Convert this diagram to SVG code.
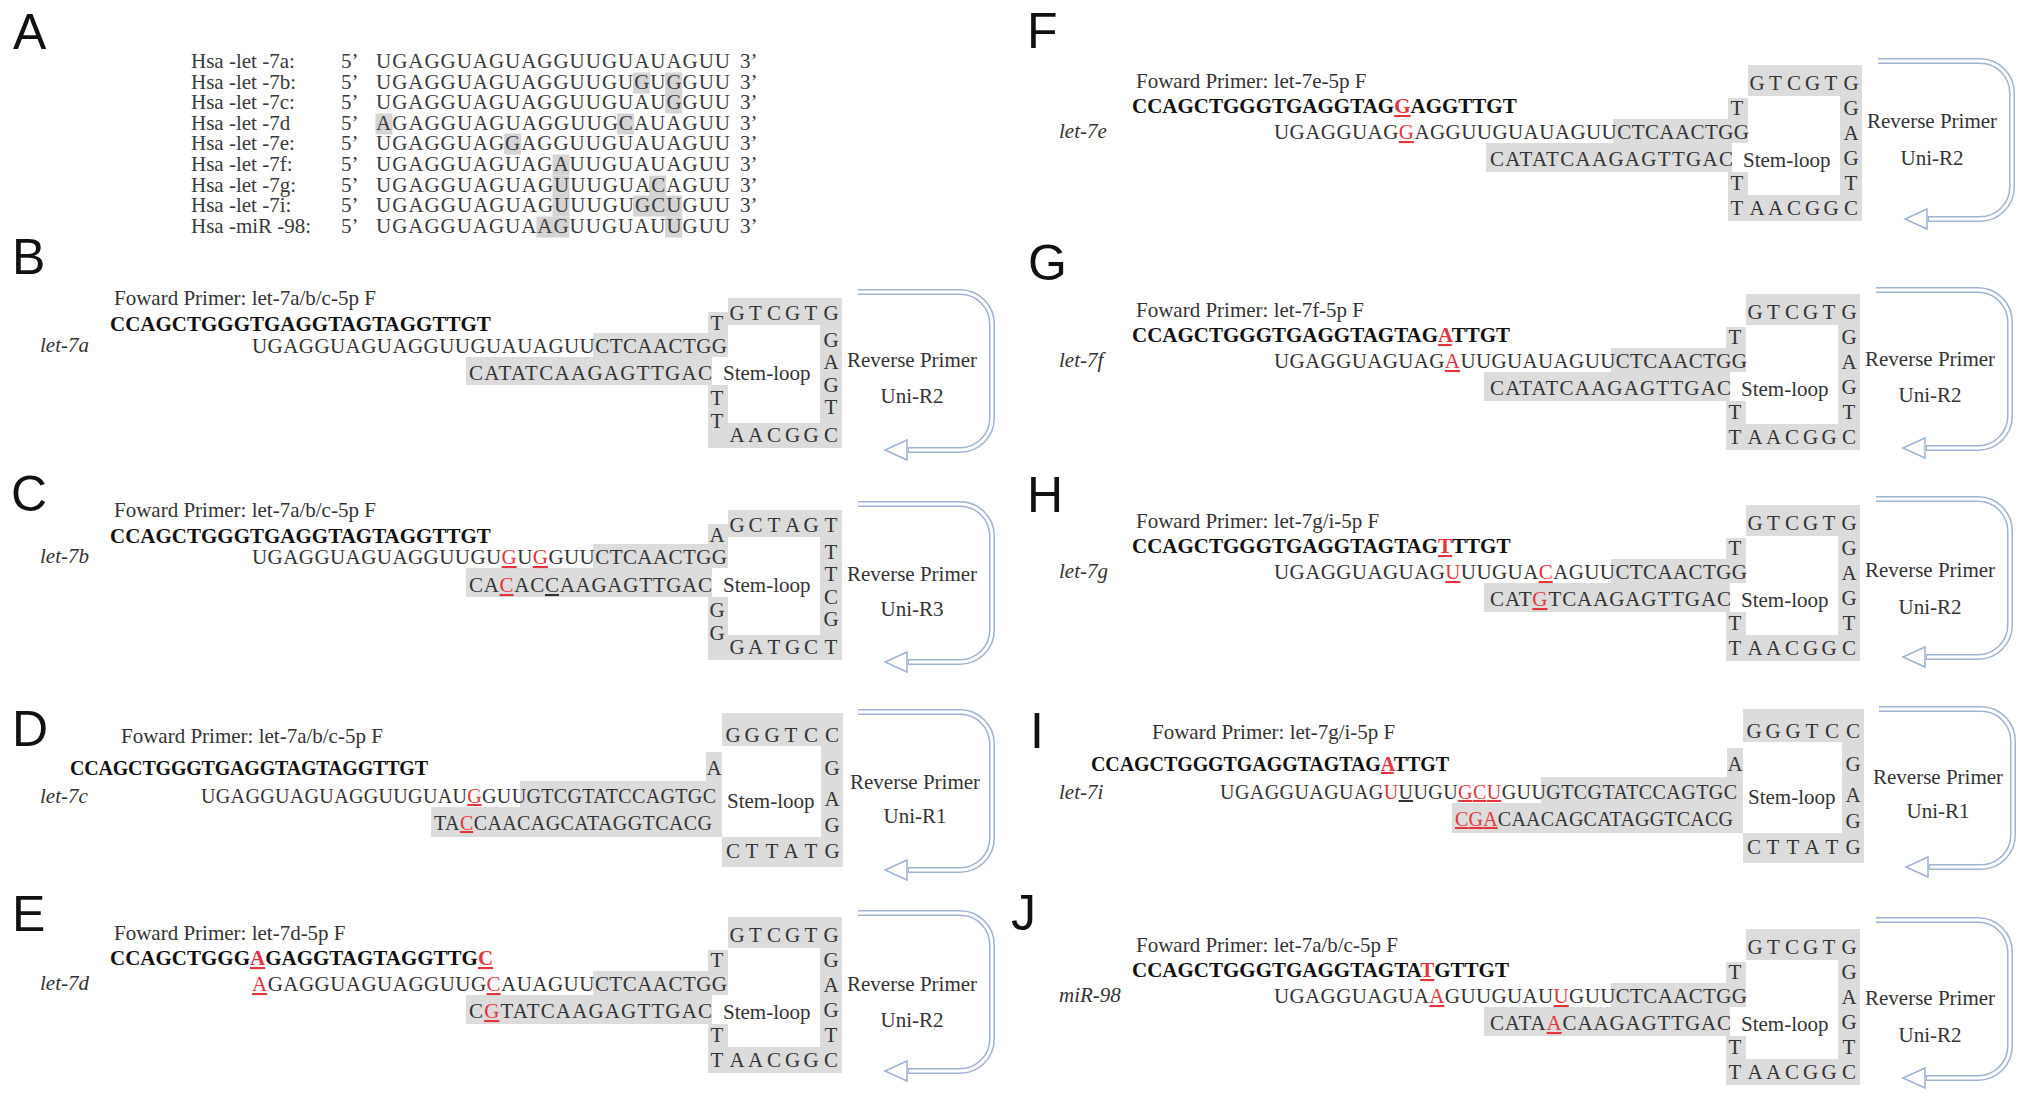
<svg xmlns="http://www.w3.org/2000/svg" width="2032" height="1101" viewBox="0 0 2032 1101">
<style>
.s{font-family:"Liberation Serif","Times New Roman",serif;font-size:21px;fill:#333}
.t{font-family:"Liberation Serif","Times New Roman",serif;font-size:21px;fill:#3a3a3a}
.sm{font-size:20px}
.b{font-weight:bold;fill:#111}
.i{font-style:italic}
.c{text-anchor:middle}
.r{fill:#e4353d;text-decoration:underline}
.rn{fill:#e4353d}
.u{text-decoration:underline}
.g{fill:#dcdcdc}
.hl{fill:#d4d4d4}
.L{font-family:"Liberation Sans",Arial,sans-serif;font-size:50px;fill:#111}
.ao{fill:none;stroke:#9fb3d0;stroke-width:6}
.ai{fill:none;stroke:#fff;stroke-width:3}
.ah{fill:#fff;stroke:#9fb3d0;stroke-width:1.5}
</style>
<defs>
<g id="arrow">
<polygon class="ah" points="49,148 27,158 49,168"/>
<path class="ao" d="M0 0H102A32 32 0 0 1 134 32V126A32 32 0 0 1 102 158H50"/>
<path class="ai" d="M0 0H102A32 32 0 0 1 134 32V126A32 32 0 0 1 102 158H51"/>
</g>
</defs>
<rect width="2032" height="1101" fill="#fff"/>

<g id="panel-A">
<text class="L" x="13" y="49">A</text>
<g class="hl">
<rect x="632.9" y="72.5" width="17" height="21"/><rect x="665.1" y="72.5" width="17" height="21"/>
<rect x="665.1" y="92.5" width="17" height="21"/>
<rect x="375.5" y="113.5" width="17" height="21"/><rect x="616.9" y="113.5" width="17" height="21"/>
<rect x="504.2" y="133.5" width="17" height="21"/>
<rect x="552.5" y="154.5" width="17" height="21"/>
<rect x="552.5" y="175.5" width="17" height="21"/><rect x="649" y="175.5" width="17" height="21"/>
<rect x="552.5" y="195.5" width="17" height="21"/><rect x="632.9" y="195.5" width="49" height="21"/>
<rect x="536.4" y="216.5" width="33" height="21"/><rect x="665.1" y="216.5" width="17" height="21"/>
</g>
<text class="t" x="191" y="68">Hsa -let -7a:</text><text class="t" x="341" y="68">5’</text><text class="t" x="376" y="68" textLength="354">UGAGGUAGUAGGUUGUAUAGUU</text><text class="t" x="740" y="68">3’</text>
<text class="t" x="191" y="89">Hsa -let -7b:</text><text class="t" x="341" y="89">5’</text><text class="t" x="376" y="89" textLength="354">UGAGGUAGUAGGUUGUGUGGUU</text><text class="t" x="740" y="89">3’</text>
<text class="t" x="191" y="109">Hsa -let -7c:</text><text class="t" x="341" y="109">5’</text><text class="t" x="376" y="109" textLength="354">UGAGGUAGUAGGUUGUAUGGUU</text><text class="t" x="740" y="109">3’</text>
<text class="t" x="191" y="130">Hsa -let -7d</text><text class="t" x="341" y="130">5’</text><text class="t" x="376" y="130" textLength="354">AGAGGUAGUAGGUUGCAUAGUU</text><text class="t" x="740" y="130">3’</text>
<text class="t" x="191" y="150">Hsa -let -7e:</text><text class="t" x="341" y="150">5’</text><text class="t" x="376" y="150" textLength="354">UGAGGUAGGAGGUUGUAUAGUU</text><text class="t" x="740" y="150">3’</text>
<text class="t" x="191" y="171">Hsa -let -7f:</text><text class="t" x="341" y="171">5’</text><text class="t" x="376" y="171" textLength="354">UGAGGUAGUAGAUUGUAUAGUU</text><text class="t" x="740" y="171">3’</text>
<text class="t" x="191" y="192">Hsa -let -7g:</text><text class="t" x="341" y="192">5’</text><text class="t" x="376" y="192" textLength="354">UGAGGUAGUAGUUUGUACAGUU</text><text class="t" x="740" y="192">3’</text>
<text class="t" x="191" y="212">Hsa -let -7i:</text><text class="t" x="341" y="212">5’</text><text class="t" x="376" y="212" textLength="354">UGAGGUAGUAGUUUGUGCUGUU</text><text class="t" x="740" y="212">3’</text>
<text class="t" x="191" y="233">Hsa -miR -98:</text><text class="t" x="341" y="233">5’</text><text class="t" x="376" y="233" textLength="354">UGAGGUAGUAAGUUGUAUUGUU</text><text class="t" x="740" y="233">3’</text>
</g>

<g id="panel-B">
<text class="L" x="12" y="274">B</text>
<rect class="g" x="593" y="333" width="135" height="24"/>
<rect class="g" x="466" y="357" width="246" height="28"/>
<rect class="g" x="728" y="298" width="114" height="27"/>
<rect class="g" x="820" y="298" width="22" height="150"/>
<rect class="g" x="728" y="423" width="114" height="25"/>
<rect class="g" x="708" y="312" width="20" height="45"/>
<rect class="g" x="708" y="385" width="20" height="63"/>
<text class="s" x="114" y="305">Foward Primer: let-7a/b/c-5p F</text>
<text class="s b" x="110" y="331">CCAGCTGGGTGAGGTAGTAGGTTGT</text>
<text class="s i" x="40" y="352">let-7a</text>
<text class="s" x="252" y="353" textLength="475">UGAGGUAGUAGGUUGUAUAGUUCTCAACTGG</text>
<text class="s" x="469" y="380" textLength="243">CATATCAAGAGTTGAC</text>
<text class="s c" x="717" y="330">T</text>
<text class="s c" x="717" y="405">T</text>
<text class="s c" x="717" y="428">T</text>
<text class="s c" x="737 755.5 774 792.5 811 831" y="320">GTCGTG</text>
<text class="s c" x="831 831 831 831 831" y="347 369 392 414 442">GAGTC</text>
<text class="s c" x="737 755.5 774 792.5 811" y="442">AACGG</text>
<text class="s" x="723" y="380">Stem-loop</text>
<text class="s" x="847" y="367">Reverse Primer</text>
<text class="s c" x="912" y="403">Uni-R2</text>
</g>

<g id="panel-C">
<text class="L" x="11" y="511">C</text>
<rect class="g" x="593" y="544" width="135" height="24"/>
<rect class="g" x="466" y="568" width="246" height="29"/>
<rect class="g" x="728" y="510" width="114" height="27"/>
<rect class="g" x="820" y="510" width="22" height="150"/>
<rect class="g" x="728" y="635" width="114" height="25"/>
<rect class="g" x="708" y="524" width="20" height="44"/>
<rect class="g" x="708" y="597" width="20" height="63"/>
<text class="s" x="114" y="517">Foward Primer: let-7a/b/c-5p F</text>
<text class="s b" x="110" y="543">CCAGCTGGGTGAGGTAGTAGGTTGT</text>
<text class="s i" x="40" y="563">let-7b</text>
<text class="s" x="252" y="564" textLength="475">UGAGGUAGUAGGUUGU<tspan class="r">G</tspan>U<tspan class="r">G</tspan>GUUCTCAACTGG</text>
<text class="s" x="469" y="592" textLength="243">CA<tspan class="r">C</tspan>AC<tspan class="u">C</tspan>AAGAGTTGAC</text>
<text class="s c" x="717" y="542">A</text>
<text class="s c" x="717" y="617">G</text>
<text class="s c" x="717" y="640">G</text>
<text class="s c" x="737 755.5 774 792.5 811 831" y="532">GCTAGT</text>
<text class="s c" x="831 831 831 831 831" y="559 581 604 626 654">TTCGT</text>
<text class="s c" x="737 755.5 774 792.5 811" y="654">GATGC</text>
<text class="s" x="723" y="592">Stem-loop</text>
<text class="s" x="847" y="581">Reverse Primer</text>
<text class="s c" x="912" y="616">Uni-R3</text>
</g>

<g id="panel-D">
<text class="L" x="12" y="746">D</text>
<rect class="g" x="520" y="781" width="202" height="26"/>
<rect class="g" x="431" y="807" width="291" height="30"/>
<rect class="g" x="722" y="713" width="121" height="33"/>
<rect class="g" x="821" y="713" width="22" height="154"/>
<rect class="g" x="722" y="837" width="121" height="30"/>
<rect class="g" x="706" y="752" width="16" height="55"/>
<text class="s" x="121" y="743">Foward Primer: let-7a/b/c-5p F</text>
<text class="s b sm" x="70" y="775" textLength="358">CCAGCTGGGTGAGGTAGTAGGTTGT</text>
<text class="s i" x="40" y="803">let-7c</text>
<text class="s sm" x="201" y="803" textLength="515">UGAGGUAGUAGGUUGUAU<tspan class="r">G</tspan>GUUGTCGTATCCAGTGC</text>
<text class="s sm" x="434" y="830" textLength="278">TA<tspan class="r">C</tspan>CAACAGCATAGGTCACG</text>
<text class="s c" x="714" y="775">A</text>
<text class="s c" x="733 752 772 791 811 832" y="742">GGGTCC</text>
<text class="s c" x="832 832 832" y="775 806 832">GAG</text>
<text class="s c" x="733 752 772 791 811 832" y="858">CTTATG</text>
<text class="s" x="727" y="808">Stem-loop</text>
<text class="s" x="850" y="789">Reverse Primer</text>
<text class="s c" x="915" y="823">Uni-R1</text>
</g>

<g id="panel-E" transform="translate(0,940)">
<text class="L" x="12" y="-9">E</text>
<rect class="g" x="593" y="31" width="135" height="24"/>
<rect class="g" x="466" y="55" width="246" height="29"/>
<rect class="g" x="728" y="-23" width="114" height="31"/>
<rect class="g" x="820" y="-23" width="22" height="156"/>
<rect class="g" x="708" y="107" width="134" height="26"/>
<rect class="g" x="708" y="10" width="20" height="45"/>
<rect class="g" x="708" y="84" width="20" height="49"/>
<text class="s" x="114" y="0">Foward Primer: let-7d-5p F</text>
<text class="s b" x="110" y="25">CCAGCTGGG<tspan class="r">A</tspan>GAGGTAGTAGGTTG<tspan class="r">C</tspan></text>
<text class="s i" x="40" y="50">let-7d</text>
<text class="s" x="252" y="51" textLength="475"><tspan class="r">A</tspan>GAGGUAGUAGGUUG<tspan class="r">C</tspan>AUAGUUCTCAACTGG</text>
<text class="s" x="469" y="78" textLength="243">C<tspan class="r">G</tspan>TATCAAGAGTTGAC</text>
<text class="s c" x="737 755.5 774 792.5 811 831" y="2">GTCGTG</text>
<text class="s c" x="717" y="27">T</text>
<text class="s c" x="717" y="102">T</text>
<text class="s c" x="717" y="127">T</text>
<text class="s c" x="831 831 831 831 831" y="27 52 77 102 127">GAGTC</text>
<text class="s c" x="737 755.5 774 792.5 811" y="127">AACGG</text>
<text class="s" x="723" y="79">Stem-loop</text>
<text class="s" x="847" y="51">Reverse Primer</text>
<text class="s c" x="912" y="87">Uni-R2</text>
</g>

<g id="panel-F" transform="translate(1020,88)">
<text class="L" x="7" y="-40">F</text>
<rect class="g" x="593" y="31" width="135" height="24"/>
<rect class="g" x="466" y="55" width="246" height="29"/>
<rect class="g" x="728" y="-23" width="114" height="31"/>
<rect class="g" x="820" y="-23" width="22" height="156"/>
<rect class="g" x="708" y="107" width="134" height="26"/>
<rect class="g" x="708" y="10" width="20" height="45"/>
<rect class="g" x="708" y="84" width="20" height="49"/>
<text class="s" x="116" y="0">Foward Primer: let-7e-5p F</text>
<text class="s b" x="112" y="25">CCAGCTGGGTGAGGTAG<tspan class="r">G</tspan>AGGTTGT</text>
<text class="s i" x="39" y="50">let-7e</text>
<text class="s" x="254" y="51" textLength="475">UGAGGUAG<tspan class="r">G</tspan>AGGUUGUAUAGUUCTCAACTGG</text>
<text class="s" x="470" y="78" textLength="243">CATATCAAGAGTTGAC</text>
<text class="s c" x="737 755.5 774 792.5 811 831" y="2">GTCGTG</text>
<text class="s c" x="717" y="27">T</text>
<text class="s c" x="717" y="102">T</text>
<text class="s c" x="717" y="127">T</text>
<text class="s c" x="831 831 831 831 831" y="27 52 77 102 127">GAGTC</text>
<text class="s c" x="737 755.5 774 792.5 811" y="127">AACGG</text>
<text class="s" x="723" y="79">Stem-loop</text>
<text class="s" x="847" y="40">Reverse Primer</text>
<text class="s c" x="912" y="77">Uni-R2</text>
</g>

<g id="panel-G" transform="translate(1018,317)">
<text class="L" x="10" y="-37">G</text>
<rect class="g" x="593" y="31" width="135" height="24"/>
<rect class="g" x="466" y="55" width="246" height="29"/>
<rect class="g" x="728" y="-23" width="114" height="31"/>
<rect class="g" x="820" y="-23" width="22" height="156"/>
<rect class="g" x="708" y="107" width="134" height="26"/>
<rect class="g" x="708" y="10" width="20" height="45"/>
<rect class="g" x="708" y="84" width="20" height="49"/>
<text class="s" x="118" y="0">Foward Primer: let-7f-5p F</text>
<text class="s b" x="114" y="25">CCAGCTGGGTGAGGTAGTAG<tspan class="r">A</tspan>TTGT</text>
<text class="s i" x="41" y="50">let-7f</text>
<text class="s" x="256" y="51" textLength="473">UGAGGUAGUAG<tspan class="r">A</tspan>UUGUAUAGUUCTCAACTGG</text>
<text class="s" x="472" y="78" textLength="241">CATATCAAGAGTTGAC</text>
<text class="s c" x="737 755.5 774 792.5 811 831" y="2">GTCGTG</text>
<text class="s c" x="717" y="27">T</text>
<text class="s c" x="717" y="102">T</text>
<text class="s c" x="717" y="127">T</text>
<text class="s c" x="831 831 831 831 831" y="27 52 77 102 127">GAGTC</text>
<text class="s c" x="737 755.5 774 792.5 811" y="127">AACGG</text>
<text class="s" x="723" y="79">Stem-loop</text>
<text class="s" x="847" y="49">Reverse Primer</text>
<text class="s c" x="912" y="85">Uni-R2</text>
</g>

<g id="panel-H" transform="translate(1018,528)">
<text class="L" x="9" y="-16">H</text>
<rect class="g" x="593" y="31" width="135" height="24"/>
<rect class="g" x="466" y="55" width="246" height="29"/>
<rect class="g" x="728" y="-23" width="114" height="31"/>
<rect class="g" x="820" y="-23" width="22" height="156"/>
<rect class="g" x="708" y="107" width="134" height="26"/>
<rect class="g" x="708" y="10" width="20" height="45"/>
<rect class="g" x="708" y="84" width="20" height="49"/>
<text class="s" x="118" y="0">Foward Primer: let-7g/i-5p F</text>
<text class="s b" x="114" y="25">CCAGCTGGGTGAGGTAGTAG<tspan class="r">T</tspan>TTGT</text>
<text class="s i" x="41" y="50">let-7g</text>
<text class="s" x="256" y="51" textLength="473">UGAGGUAGUAG<tspan class="r">U</tspan>UUGUA<tspan class="r">C</tspan>AGUUCTCAACTGG</text>
<text class="s" x="472" y="78" textLength="241">CAT<tspan class="r">G</tspan>TCAAGAGTTGAC</text>
<text class="s c" x="737 755.5 774 792.5 811 831" y="2">GTCGTG</text>
<text class="s c" x="717" y="27">T</text>
<text class="s c" x="717" y="102">T</text>
<text class="s c" x="717" y="127">T</text>
<text class="s c" x="831 831 831 831 831" y="27 52 77 102 127">GAGTC</text>
<text class="s c" x="737 755.5 774 792.5 811" y="127">AACGG</text>
<text class="s" x="723" y="79">Stem-loop</text>
<text class="s" x="847" y="49">Reverse Primer</text>
<text class="s c" x="912" y="86">Uni-R2</text>
</g>

<g id="panel-I" transform="translate(1021,-4)">
<text class="L" x="9" y="752">I</text>
<rect class="g" x="520" y="781" width="202" height="26"/>
<rect class="g" x="431" y="807" width="291" height="30"/>
<rect class="g" x="722" y="713" width="121" height="33"/>
<rect class="g" x="821" y="713" width="22" height="154"/>
<rect class="g" x="722" y="837" width="121" height="30"/>
<rect class="g" x="706" y="752" width="16" height="55"/>
<text class="s" x="131" y="743">Foward Primer: let-7g/i-5p F</text>
<text class="s b sm" x="70" y="775" textLength="358">CCAGCTGGGTGAGGTAGTAG<tspan class="r">A</tspan>TTGT</text>
<text class="s i" x="38" y="803">let-7i</text>
<text class="s sm" x="199" y="803" textLength="517">UGAGGUAGUAG<tspan class="rn">U</tspan><tspan class="u">U</tspan>UGU<tspan class="r">GCU</tspan>GUUGTCGTATCCAGTGC</text>
<text class="s sm" x="434" y="830" textLength="278"><tspan class="r">CGA</tspan>CAACAGCATAGGTCACG</text>
<text class="s c" x="714" y="775">A</text>
<text class="s c" x="733 752 772 791 811 832" y="742">GGGTCC</text>
<text class="s c" x="832 832 832" y="775 806 832">GAG</text>
<text class="s c" x="733 752 772 791 811 832" y="858">CTTATG</text>
<text class="s" x="727" y="808">Stem-loop</text>
<text class="s" x="852" y="788">Reverse Primer</text>
<text class="s c" x="917" y="822">Uni-R1</text>
</g>

<g id="panel-J" transform="translate(1018,952)">
<text class="L" x="-7" y="-22">J</text>
<rect class="g" x="593" y="31" width="135" height="24"/>
<rect class="g" x="466" y="55" width="246" height="29"/>
<rect class="g" x="728" y="-23" width="114" height="31"/>
<rect class="g" x="820" y="-23" width="22" height="156"/>
<rect class="g" x="708" y="107" width="134" height="26"/>
<rect class="g" x="708" y="10" width="20" height="45"/>
<rect class="g" x="708" y="84" width="20" height="49"/>
<text class="s" x="118" y="0">Foward Primer: let-7a/b/c-5p F</text>
<text class="s b" x="114" y="25">CCAGCTGGGTGAGGTAGTA<tspan class="r">T</tspan>GTTGT</text>
<text class="s i" x="41" y="50">miR-98</text>
<text class="s" x="256" y="51" textLength="473">UGAGGUAGUA<tspan class="r">A</tspan>GUUGUAU<tspan class="r">U</tspan>GUUCTCAACTGG</text>
<text class="s" x="472" y="78" textLength="241">CATA<tspan class="r">A</tspan>CAAGAGTTGAC</text>
<text class="s c" x="737 755.5 774 792.5 811 831" y="2">GTCGTG</text>
<text class="s c" x="717" y="27">T</text>
<text class="s c" x="717" y="102">T</text>
<text class="s c" x="717" y="127">T</text>
<text class="s c" x="831 831 831 831 831" y="27 52 77 102 127">GAGTC</text>
<text class="s c" x="737 755.5 774 792.5 811" y="127">AACGG</text>
<text class="s" x="723" y="79">Stem-loop</text>
<text class="s" x="847" y="53">Reverse Primer</text>
<text class="s c" x="912" y="90">Uni-R2</text>
</g>

<g id="connectors">
<use href="#arrow" x="858" y="292"/>
<use href="#arrow" x="858" y="504"/>
<use href="#arrow" x="858" y="712"/>
<use href="#arrow" x="858" y="913"/>
<use href="#arrow" x="1878" y="61"/>
<use href="#arrow" x="1876" y="290"/>
<use href="#arrow" x="1876" y="499"/>
<use href="#arrow" x="1879" y="709"/>
<use href="#arrow" x="1876" y="920"/>
</g>
</svg>
